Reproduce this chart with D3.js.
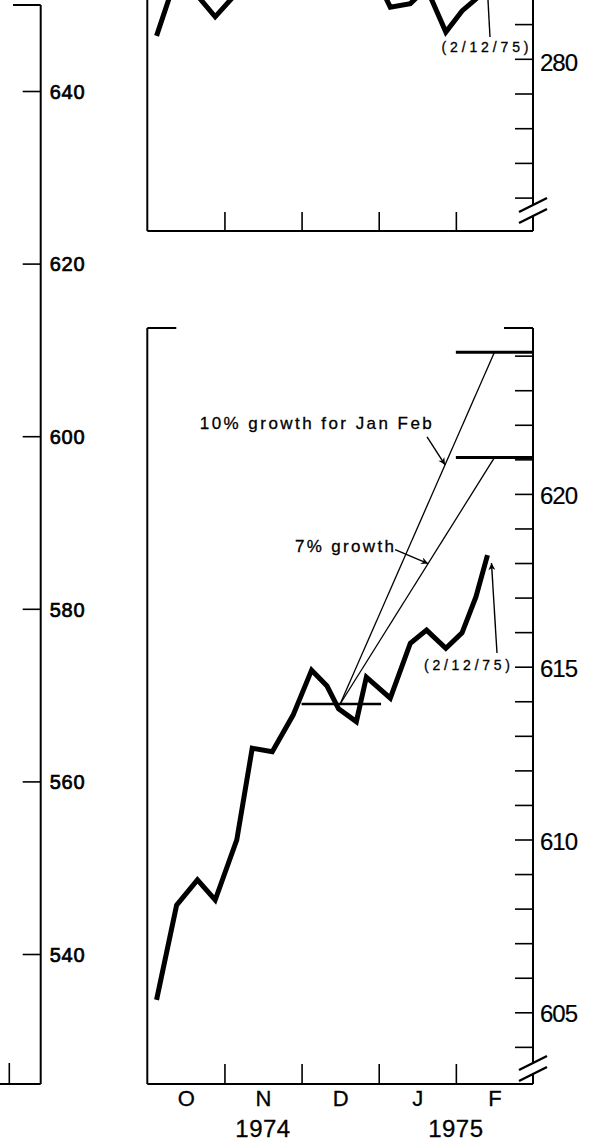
<!DOCTYPE html>
<html><head><meta charset="utf-8">
<script src="https://cdn.jsdelivr.net/npm/d3@7"></script>
<style>body{margin:0;background:#fff} svg{display:block;background:#fff}</style>
</head><body><svg id="c" width="597" height="1145"></svg>
<script>
// ---- data ----
const months = ["O","N","D","J","F"];
const years = ["1974","1975"];
const yearPos = [1.5, 4.0];
// weekly observation positions, in months since Oct 1 1974
const weekPos = [0.12,0.38,0.65,0.88,1.16,1.36,1.62,1.89,2.13,2.33,2.48,2.71,2.84,3.15,3.41,3.62,3.87,4.08,4.26,4.41];
const lowerValues = [605.36,608.10,608.83,608.25,609.99,612.64,612.54,613.60,614.90,614.44,613.78,613.41,614.70,614.09,615.68,616.06,615.53,615.98,617.02,618.23];
const upperValues = [280.66,282.39,281.82,281.21,281.90,282.6,282.4,282.9,283.3,283.0,282.7,282.5,282.9,281.49,281.59,282.04,280.77,281.38,281.72,282.70];
const lowerTicks = d3.range(604, 625);
const lowerLabels = [605,610,615,620];
const upperTicks = [276,277,278,279,280,281];
const upperLabels = [280];
const leftTicks = [540,560,580,600,620,640];
const decAverage = 613.92;
const decSpan = [2, 3.03];
const growthStart = 2.5, growthEnd = 4.5;
const growthTargets = [624.1, 621.05];
const growthLabels = ["10% growth for Jan  Feb", "7% growth"];
const growthArrowAt = [3.86, 3.64];
const targetSpan = [4, 5];
const lastDate = "(2/12/75)";

// ---- layout ----
const svg = d3.select("#c");
const x = d3.scaleLinear().domain([0,5]).range([147.3,533]);
const yLow = d3.scaleLinear().domain([605,615]).range([1012.3,666.7]);
const yUp = d3.scaleLinear().domain([276,281]).range([197.6,24.1]);
const yLeft = d3.scaleLinear().domain([540,640]).range([954,91]);
const L = x(0), R = x(5);
const upBottom = 231, lowTop = 328, lowBottom = 1084;
const leftAxisX = 40.7;
const FONT = "'Liberation Sans', Arial, sans-serif";

svg.append("rect").attr("width",597).attr("height",1145).attr("fill","#fff");

const defs = svg.append("defs");
defs.append("marker").attr("id","ah").attr("viewBox","0 0 10 10").attr("refX",10).attr("refY",5)
  .attr("markerWidth",9).attr("markerHeight",7).attr("markerUnits","userSpaceOnUse").attr("orient","auto")
  .append("path").attr("d","M0,0 L10,5 L0,10 L3,5 Z").attr("fill","#000");
defs.append("clipPath").attr("id","upclip").append("rect")
  .attr("x",L).attr("y",-200).attr("width",R-L).attr("height",upBottom+200);

function seg(x1,y1,x2,y2,w){
  return svg.append("line").attr("x1",x1).attr("y1",y1).attr("x2",x2).attr("y2",y2)
    .attr("stroke","#000").attr("stroke-width",w||2);
}
function breakMark(cy){
  seg(R-14, cy+3, R+14, cy-11, 2.4);
  seg(R-14, cy+14, R+14, cy, 2.4);
}
function styleAxis(g, fs, ls, dy, sw){
  g.select(".domain").remove();
  g.selectAll(".tick line").attr("stroke","#000").attr("stroke-width",1.6);
  g.selectAll(".tick text").attr("fill","#000").style("font-family",FONT)
    .style("font-size",fs+"px").style("letter-spacing",ls+"px");
  if (sw) g.selectAll(".tick text").attr("stroke","#000").attr("stroke-width",sw);
  if (dy) g.selectAll(".tick text").attr("dy",dy);
}

// ---- left panel (partial) ----
seg(leftAxisX, 5, leftAxisX, lowBottom, 2);
seg(13, 5, leftAxisX, 5, 2);
seg(0, lowBottom, leftAxisX, lowBottom, 2);
seg(9.3, 1063, 9.3, lowBottom, 1.6);
svg.append("g").attr("transform",`translate(${leftAxisX},0)`)
  .call(d3.axisRight(yLeft).tickValues(leftTicks).tickSizeInner(-18).tickSizeOuter(0).tickPadding(9))
  .call(g=>styleAxis(g,20,0.8,"0.36em",0.7));

// ---- upper panel ----
seg(L, 0, L, upBottom);
seg(L, upBottom, R, upBottom);
const upBreak = 209;
seg(R, 0, R, upBreak-5);
seg(R, upBreak+6, R, upBottom);
breakMark(upBreak);
svg.append("g").attr("transform",`translate(0,${upBottom})`)
  .call(d3.axisBottom(x).tickValues([1,2,3,4]).tickSizeInner(-19).tickSizeOuter(0).tickFormat(""))
  .call(g=>styleAxis(g,10,0));
svg.append("g").attr("transform",`translate(${R},0)`)
  .call(d3.axisRight(yUp).tickValues(upperTicks).tickSizeInner(-18).tickSizeOuter(0).tickPadding(7)
    .tickFormat(d=>upperLabels.includes(d)?d:""))
  .call(g=>styleAxis(g,24,-1,"0.5em",0.2));
svg.append("path").datum(upperValues).attr("clip-path","url(#upclip)")
  .attr("fill","none").attr("stroke","#000").attr("stroke-width",5).attr("stroke-linejoin","miter")
  .attr("d", d3.line().x((d,i)=>x(weekPos[i])).y(d=>yUp(d)));
const lastI = weekPos.length-1;
svg.append("text").attr("x",485).attr("y",52).attr("text-anchor","middle")
  .attr("textLength",87).attr("lengthAdjust","spacing").attr("stroke","#000").attr("stroke-width",0.3)
  .style("font-family",FONT).style("font-size","14px").text(lastDate);
seg(x(weekPos[lastI])+2.5, 37, x(weekPos[lastI])+0.5, 0, 1.4);

// ---- lower panel ----
seg(L, lowTop, L, lowBottom);
seg(L, lowTop, L+29, lowTop);
seg(R-29, lowTop, R, lowTop);
seg(L, lowBottom, R, lowBottom);
const lowBreak = 1067;
seg(R, lowTop, R, lowBreak-5);
seg(R, lowBreak+6, R, lowBottom);
breakMark(lowBreak);
svg.append("g").attr("transform",`translate(0,${lowBottom})`)
  .call(d3.axisBottom(x).tickValues([1,2,3,4]).tickSizeInner(-20).tickSizeOuter(0).tickFormat(""))
  .call(g=>styleAxis(g,10,0));
svg.append("g").attr("transform",`translate(0,${lowBottom})`)
  .call(d3.axisBottom(x).tickValues(months.map((m,i)=>i+0.5)).tickSize(0).tickPadding(6)
    .tickFormat((d,i)=>months[i]))
  .call(g=>styleAxis(g,22,0,null,0.3));
svg.append("g").selectAll("text").data(years).join("text")
  .attr("x",(d,i)=>x(yearPos[i])).attr("y",1137).attr("text-anchor","middle")
  .attr("stroke","#000").attr("stroke-width",0.3)
  .style("font-family",FONT).style("font-size","24px").style("letter-spacing","0.5px").text(d=>d);
svg.append("g").attr("transform",`translate(${R},0)`)
  .call(d3.axisRight(yLow).tickValues(lowerTicks).tickSizeInner(-18).tickSizeOuter(0).tickPadding(7)
    .tickFormat(d=>lowerLabels.includes(d)?d:""))
  .call(g=>styleAxis(g,24,-1,"0.4em",0.2));

// December average and growth paths
seg(x(decSpan[0]), yLow(decAverage), x(decSpan[1]), yLow(decAverage), 2.4);
growthTargets.forEach((t,k)=>{
  seg(x(growthStart), yLow(decAverage), x(growthEnd), yLow(t), 1.3);
  seg(x(targetSpan[0]), yLow(t), x(targetSpan[1]), yLow(t), 3);
});
// series
svg.append("path").datum(lowerValues)
  .attr("fill","none").attr("stroke","#000").attr("stroke-width",5).attr("stroke-linejoin","miter")
  .attr("d", d3.line().x((d,i)=>x(weekPos[i])).y(d=>yLow(d)));

// annotations
function onGrowth(k, m){
  const t = (m-growthStart)/(growthEnd-growthStart);
  return [x(m), yLow(decAverage + t*(growthTargets[k]-decAverage))];
}
function arrow(x1,y1,x2,y2){
  svg.append("line").attr("x1",x1).attr("y1",y1).attr("x2",x2).attr("y2",y2)
    .attr("stroke","#000").attr("stroke-width",1.4).attr("marker-end","url(#ah)");
}
const g10 = onGrowth(0, growthArrowAt[0]);
const g7 = onGrowth(1, growthArrowAt[1]);
svg.append("text").attr("x",199.8).attr("y",428.5).attr("textLength",232).attr("lengthAdjust","spacing")
  .attr("stroke","#000").attr("stroke-width",0.3)
  .style("font-family",FONT).style("font-size","17px").text(growthLabels[0]);
arrow(g10[0]-18, g10[1]-28, g10[0], g10[1]);
svg.append("text").attr("x",295).attr("y",552).attr("textLength",99).attr("lengthAdjust","spacing")
  .attr("stroke","#000").attr("stroke-width",0.3)
  .style("font-family",FONT).style("font-size","17px").text(growthLabels[1]);
arrow(g7[0]-33, g7[1]-14, g7[0], g7[1]);
const lx = x(weekPos[lastI]), ly = yLow(lowerValues[lastI]);
svg.append("text").attr("x",467).attr("y",670).attr("text-anchor","middle")
  .attr("textLength",86).attr("lengthAdjust","spacing").attr("stroke","#000").attr("stroke-width",0.3)
  .style("font-family",FONT).style("font-size","14px").text(lastDate);
arrow(lx+9.5, 653, lx+4, ly+8);
</script></body></html>
